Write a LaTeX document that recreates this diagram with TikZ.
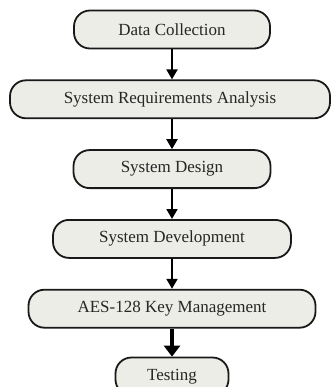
\documentclass[tikz,border=0pt]{standalone}
\usepackage{fontspec}
\setmainfont{Liberation Serif}
\usetikzlibrary{arrows.meta, positioning}
\definecolor{boxfill}{RGB}{236,237,230}
\tikzset{rect/.style = {
  rectangle,
  line width=1.8pt, rounded corners=16pt,
  draw=black!90,
  fill=boxfill,
  text=black!85,
  text centered, align=center,
  minimum height=38pt,
  font=\fontsize{17}{20}\selectfont
  }}
\tikzset{stage/.style = {
  % Rectangle:
  rect
  }}
\tikzset{arrow/.style = {
  -{Triangle[length=10pt, width=11pt]},
  line width=2pt,
  draw=black
  }}
\tikzset{thickarrow/.style = {
  arrow,
  -{Triangle[length=11pt, width=16pt]},
  line width=4.5pt
  }}

\begin{document}
\begin{tikzpicture}[node distance=30pt]
  \useasboundingbox (0,0) rectangle (330pt,-387pt);
  %
  % Specification of nodes
  %
  \node (collect) [stage, minimum width=196pt] at (172pt,-29.5pt) {Data Collection};
  \node (req) [stage, minimum width=320pt, below = of collect, xshift=-2pt] {System Requirements Analysis};
  \node (design) [stage, minimum width=197pt, below = of req, xshift=2pt] {System Design};
  \node (develop) [stage, minimum width=238pt, below = of design] {System Development};
  \node (keys) [stage, minimum width=287pt, below = of develop] {AES-128 Key Management};
  \node (testing) [stage, minimum width=113pt, below = 28pt of keys] {Testing};

  %
  % Specification of lines
  %
  \draw [arrow] (collect.south) -- (req.north -| collect.south);
  \draw [arrow] (req.south -| design.north) -- (design.north);
  \draw [arrow] (design.south) -- (develop.north);
  \draw [arrow] (develop.south) -- (keys.north);
  \draw [thickarrow] (keys.south) -- (testing.north);
\end{tikzpicture}
\end{document}
